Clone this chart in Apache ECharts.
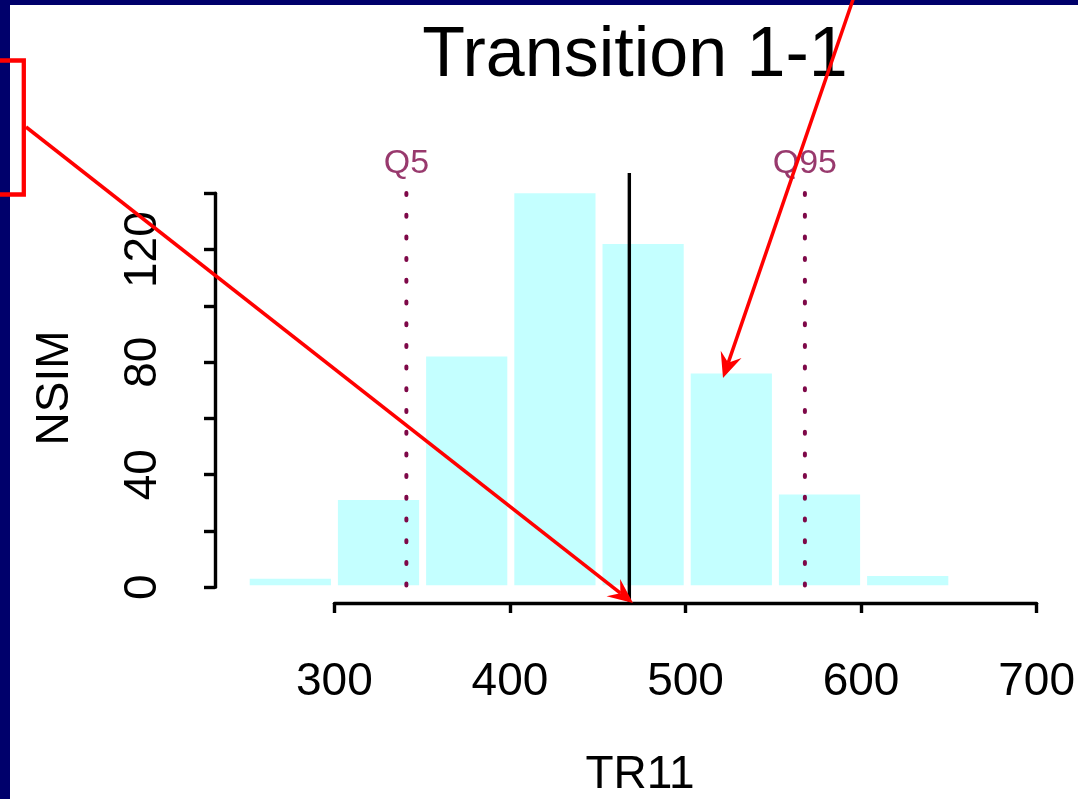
<!DOCTYPE html>
<html>
<head>
<meta charset="utf-8">
<script src="https://cdn.jsdelivr.net/npm/echarts@6/dist/echarts.min.js"></script>
<style>
  html, body { margin: 0; padding: 0; background: #fff; }
  #chart { width: 1078px; height: 799px; }
</style>
</head>
<body>
<div id="chart"></div>
<script>
// histogram bins (left edges) and counts
const binStarts = [250, 300, 350, 400, 450, 500, 550, 600];
const binWidth = 50;
const counts = [3, 31, 82, 140, 122, 76, 33, 4];

// reference lines
const quantiles = [
	{ name: "Q5", x: 341 },
	{ name: "Q95", x: 568 },
];
const observed = 468;

const xTicks = [300, 400, 500, 600, 700];
const yTicks = [0, 40, 80, 120];

const FONT = "Liberation Sans";
const QCOL = "#7E0848";

var chart = echarts.init(document.getElementById("chart"));

// lower grid extends a bit below 0 and above 140 (same scale as upper grid)
const yMinB = -5.58;
const yMaxB = 147.1;

var histData = binStarts.map((s, i) => [s, counts[i]]);

// little helper for the red annotation arrows
function arrow(x1, y1, x2, y2) {
	const ang = Math.atan2(y2 - y1, x2 - x1);
	const len = 25, half = 11, notch = 16;
	const ca = Math.cos(ang), sa = Math.sin(ang);
	const bx = x2 - len * ca, by = y2 - len * sa;
	const nx = x2 - notch * ca, ny = y2 - notch * sa;
	return [
		{
			type: "line",
			z: 100,
			shape: { x1: x1, y1: y1, x2: nx, y2: ny },
			style: { stroke: "#ff0000", lineWidth: 3.5 },
		},
		{
			type: "polygon",
			z: 100,
			shape: {
				points: [
					[x2, y2],
					[bx - half * sa, by + half * ca],
					[nx, ny],
					[bx + half * sa, by - half * ca],
				],
			},
			style: { fill: "#ff0000" },
		},
	];
}

var option = {
	backgroundColor: "#ffffff",
	animation: false,
	grid: [
		{ left: 215, right: 38, top: 193.3, bottom: 211.7 },
		{ left: 334.4, right: 38, top: 173, bottom: 196 },
	],
	xAxis: [
		{ gridIndex: 0, type: "value", min: 232.3, max: 700, show: false },
		{
			gridIndex: 1,
			type: "value",
			min: 300,
			max: 700,
			interval: 100,
			axisLine: { onZero: false, lineStyle: { color: "#000", width: 3.4 } },
			axisTick: { show: true, length: 10, lineStyle: { color: "#000", width: 3.4 } },
			axisLabel: {
				fontFamily: FONT,
				fontSize: 46,
				color: "#000",
				margin: 56,
				showMinLabel: true,
				showMaxLabel: true,
				formatter: (v) => (xTicks.includes(v) ? String(v) : ""),
			},
			splitLine: { show: false },
		},
	],
	yAxis: [
		{
			gridIndex: 0,
			type: "value",
			min: 0,
			max: 140,
			interval: 20,
			axisLine: { show: true, lineStyle: { color: "#000", width: 3.4 } },
			axisTick: { show: true, length: 11, lineStyle: { color: "#000", width: 3.4 } },
			axisLabel: {
				fontFamily: FONT,
				fontSize: 46,
				color: "#000",
				rotate: 90,
				margin: 49,
				formatter: (v) => (yTicks.includes(v) ? String(v) : ""),
			},
			splitLine: { show: false },
		},
		{ gridIndex: 1, type: "value", min: yMinB, max: yMaxB, show: false },
	],
	series: [
		{
			type: "custom",
			xAxisIndex: 0,
			yAxisIndex: 0,
			data: histData,
			renderItem: function (params, api) {
				const x0 = api.value(0);
				const h = api.value(1);
				const bl = api.coord([x0, 0]);
				const tr = api.coord([x0 + binWidth, h]);
				return {
					type: "rect",
					shape: {
						x: bl[0] + 3.5,
						y: tr[1],
						width: tr[0] - bl[0] - 7,
						height: bl[1] - 2 - tr[1],
					},
					style: { fill: "#C4FFFF" },
				};
			},
		},
		// observed value
		{
			type: "line",
			xAxisIndex: 1,
			yAxisIndex: 1,
			symbol: "none",
			z: 5,
			data: [
				[observed, yMinB],
				[observed, yMaxB],
			],
			lineStyle: { color: "#000", width: 3.4 },
		},
		// quantile lines (drawn top-down so the first dot sits at 140)
		...quantiles.map((q) => ({
			type: "line",
			xAxisIndex: 1,
			yAxisIndex: 1,
			symbol: "none",
			z: 4,
			data: [
				[q.x, 140],
				[q.x, yMinB],
			],
			lineStyle: { color: QCOL, width: 4, type: [2, 19.7], cap: "round" },
		})),
		{
			type: "scatter",
			xAxisIndex: 1,
			yAxisIndex: 1,
			symbolSize: 0,
			data: quantiles.map((q) => [q.x, 140, q.name]),
			label: {
				show: true,
				position: "top",
				distance: 12,
				formatter: (p) => p.value[2],
				fontFamily: FONT,
				fontSize: 34,
				color: QCOL,
			},
		},
	],
	graphic: [
		{
			type: "text",
			x: 635,
			y: 57,
			style: {
				text: "Transition 1-1",
				font: "70px 'Liberation Sans'",
				fill: "#000",
				textAlign: "center",
				textVerticalAlign: "middle",
			},
		},
		{
			type: "text",
			x: 640,
			y: 775,
			style: {
				text: "TR11",
				font: "46px 'Liberation Sans'",
				fill: "#000",
				textAlign: "center",
				textVerticalAlign: "middle",
			},
		},
		{
			type: "text",
			x: 55,
			y: 388,
			rotation: Math.PI / 2,
			style: {
				text: "NSIM",
				font: "46px 'Liberation Sans'",
				fill: "#000",
				textAlign: "center",
				textVerticalAlign: "middle",
			},
		},
		// navy frame
		{ type: "rect", z: 90, shape: { x: 0, y: 0, width: 1078, height: 5 }, style: { fill: "#00006B" } },
		{ type: "rect", z: 90, shape: { x: 0, y: 0, width: 10, height: 799 }, style: { fill: "#00006B" } },
		// red annotations
		{
			type: "rect",
			z: 100,
			shape: { x: -20, y: 60.5, width: 43.8, height: 134 },
			style: { fill: "none", stroke: "#ff0000", lineWidth: 4.3 },
		},
		...arrow(26, 127, 633, 603),
		...arrow(858, -15, 723, 378),
	],
};

chart.setOption(option);
</script>
</body>
</html>
